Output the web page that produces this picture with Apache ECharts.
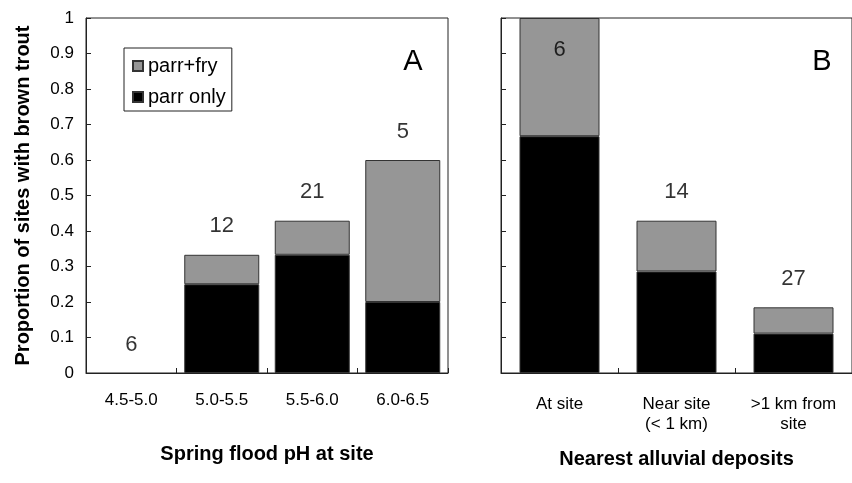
<!DOCTYPE html>
<html><head><meta charset="utf-8">
<script src="https://cdn.jsdelivr.net/npm/echarts@6/dist/echarts.min.js"></script>
<style>html,body{margin:0;padding:0;background:#fff}#c{width:852px;height:483px}</style>
</head><body><div id="c"></div>
<script>
const catsA = ['4.5-5.0','5.0-5.5','5.5-6.0','6.0-6.5'];
const parrOnlyA = [0, 0.25, 0.333, 0.2];
const parrFryA = [0, 0.083, 0.096, 0.4];
const nA = [6, 12, 21, 5];
const catsB = ['At site','Near site\n(< 1 km)','>1 km from\nsite'];
const parrOnlyB = [0.667, 0.286, 0.111];
const parrFryB = [0.333, 0.143, 0.074];
const nB = [6, 14, 27];
const yTicks = [0,0.1,0.2,0.3,0.4,0.5,0.6,0.7,0.8,0.9,1];

const F = 'Liberation Sans';
const AX = '#222';
const totA = parrOnlyA.map((v,i)=>v+parrFryA[i]);
const totB = parrOnlyB.map((v,i)=>v+parrFryB[i]);

const chart = echarts.init(document.getElementById('c'));
const yAxisBase = (gi, showLabels) => ({
  type:'value', gridIndex:gi, min:0, max:1, interval:0.1,
  axisLine:{show:true, lineStyle:{color:AX}},
  axisTick:{show:true, inside:true, length:5, lineStyle:{color:AX}},
  splitLine:{show:false},
  axisLabel:{show:showLabels, fontFamily:F, fontSize:17, color:'#000', margin:12,
    formatter: v => { const t = yTicks.find(x=>Math.abs(x-v)<1e-9); return t===undefined?'':String(t); }}
});
const xAxisBase = (gi, cats, name, gap, margin) => ({
  type:'category', gridIndex:gi, data:cats,
  name:name, nameLocation:'middle', nameGap:gap,
  nameTextStyle:{fontFamily:F, fontSize:20, fontWeight:'bold', color:'#000'},
  axisLine:{show:true, lineStyle:{color:AX}},
  axisTick:{show:true, inside:true, length:5, alignWithLabel:false, lineStyle:{color:AX}},
  axisLabel:{fontFamily:F, fontSize:17, color:'#000', margin:margin, lineHeight:20}
});
const barStyle = c => ({color:c, borderColor:'#333', borderWidth:1});
const barData = arr => arr.map(v => v === 0 ? {value:v, itemStyle:{borderWidth:0}} : v);
const labSeries = (gi, tot, ns, special) => ({
  type:'scatter', xAxisIndex:gi, yAxisIndex:gi, symbolSize:1,
  itemStyle:{color:'transparent'}, silent:true,
  data: tot.map((v,i)=>{
    const d = {value:v};
    if (special && v>=0.999) d.label = {position:'bottom', distance:20};
    return d;
  }),
  label:{show:true, position:'top', distance:17, fontFamily:F, fontSize:22, color:'#000',
    formatter: p => String(ns[p.dataIndex])}
});

chart.setOption({
  animation:false,
  backgroundColor:'#fff',
  grid:[
    {left:86, top:18, width:362, height:355, show:true, borderColor:AX, borderWidth:1},
    {left:501, top:18, width:355, height:355, show:true, borderColor:AX, borderWidth:1}
  ],
  xAxis:[ xAxisBase(0, catsA, 'Spring flood pH at site', 71, 17),
          xAxisBase(1, catsB, 'Nearest alluvial deposits', 76, 21) ],
  yAxis:[ Object.assign(yAxisBase(0,true), {name:'Proportion of sites with brown trout', nameLocation:'middle', nameGap:53,
            nameTextStyle:{fontFamily:F, fontSize:20, fontWeight:'bold', color:'#000'}}),
          yAxisBase(1,false) ],
  legend:{
    left:124, top:48, orient:'vertical', itemWidth:10, itemHeight:10, itemGap:11,
    padding:[8,6,4,8], borderColor:'#222', borderWidth:1, icon:'rect',
    data:['parr+fry','parr only'],
    textStyle:{fontFamily:F, fontSize:20, color:'#000'}
  },
  series:[
    {name:'parr only', type:'bar', stack:'a', xAxisIndex:0, yAxisIndex:0, barWidth:75, data:barData(parrOnlyA), itemStyle:barStyle('#000')},
    {name:'parr+fry', type:'bar', stack:'a', xAxisIndex:0, yAxisIndex:0, barWidth:75, data:barData(parrFryA), itemStyle:barStyle('#969696')},
    {name:'parr only', type:'bar', stack:'b', xAxisIndex:1, yAxisIndex:1, barWidth:80, data:barData(parrOnlyB), itemStyle:barStyle('#000')},
    {name:'parr+fry', type:'bar', stack:'b', xAxisIndex:1, yAxisIndex:1, barWidth:80, data:barData(parrFryB), itemStyle:barStyle('#969696')},
    labSeries(0, totA, nA, false),
    labSeries(1, totB, nB, true)
  ],
  graphic:[
    {type:'text', x:413, y:62, style:{text:'A', font:'29px "Liberation Sans"', fill:'#000', align:'center', verticalAlign:'middle'}},
    {type:'text', x:822, y:62, style:{text:'B', font:'29px "Liberation Sans"', fill:'#000', align:'center', verticalAlign:'middle'}}
  ]
});
</script></body></html>
